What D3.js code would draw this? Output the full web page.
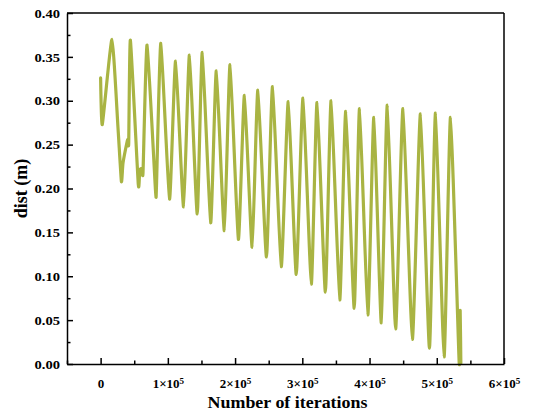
<!DOCTYPE html>
<html>
<head>
<meta charset="utf-8">
<script src="https://cdn.jsdelivr.net/npm/d3@7"></script>
<style>
  html, body { margin: 0; padding: 0; background: #fff; }
  svg { display: block; }
</style>
</head>
<body>
<svg id="chart" width="534" height="416"></svg>
<script>
// Iteration count and distance (m) at each turning point of the trace
const iterations = [
  0, 2500, 16900, 25800, 30900, 33300, 39300, 40700, 41800, 44300,
  56000, 58200, 61600, 63100, 69100, 81600, 83100, 89600, 102500, 111500,
  123400, 132100, 143700, 151200, 163700, 172100, 184000, 192500, 204900, 213900,
  225400, 233900, 246700, 255700, 268700, 279100, 291000, 301000, 313400, 321900,
  334300, 342800, 355700, 364600, 377200, 385100, 397500, 406400, 417500, 426400,
  438800, 449700, 463700, 475700, 489100, 498100, 510900, 520400, 533300, 534800,
  535800
];
const dist = [
  0.326, 0.273, 0.370, 0.270, 0.208, 0.229, 0.253, 0.256, 0.252, 0.369,
  0.205, 0.221, 0.223, 0.219, 0.3635, 0.198, 0.203, 0.3655, 0.188, 0.345,
  0.179, 0.352, 0.171, 0.355, 0.161, 0.334, 0.152, 0.341, 0.142, 0.306,
  0.133, 0.312, 0.122, 0.316, 0.111, 0.299, 0.102, 0.303, 0.091, 0.298,
  0.082, 0.300, 0.073, 0.288, 0.0635, 0.291, 0.056, 0.281, 0.047, 0.295,
  0.040, 0.291, 0.028, 0.285, 0.018, 0.286, 0.008, 0.281, 0.002, 0.061,
  0.001
];

// Axis ticks and labels
const xTicks = [0, 100000, 200000, 300000, 400000, 500000, 600000];
const xTickMantissa = ["0", "1", "2", "3", "4", "5", "6"];
const xTickExponent = "5";
const xMinorTicks = [-50000, 50000, 150000, 250000, 350000, 450000, 550000];
const yTicks = [0, 0.05, 0.10, 0.15, 0.20, 0.25, 0.30, 0.35, 0.40];
const yMinorTicks = [0.025, 0.075, 0.125, 0.175, 0.225, 0.275, 0.325, 0.375];

const FONT = "'Liberation Serif', 'Times New Roman', Times, serif";

const W = 534, H = 416;
const margin = { top: 13, right: 30, bottom: 52, left: 67 };
const iw = W - margin.left - margin.right;
const ih = H - margin.top - margin.bottom;

const svg = d3.select("#chart");
const g = svg.append("g").attr("transform", `translate(${margin.left},${margin.top})`);

const x = d3.scaleLinear().domain([-50000, 600000]).range([0, iw]);
const y = d3.scaleLinear().domain([0, 0.40]).range([ih, 0]);

// Data trace
const pts = iterations.map((v, i) => [v, dist[i]]);
const line = d3.line()
  .x(d => x(d[0]))
  .y(d => y(d[1]))
  .curve(d3.curveCardinal.tension(0.5));

g.append("path")
  .datum(pts)
  .attr("d", line)
  .attr("fill", "none")
  .attr("stroke", "#a9b443")
  .attr("stroke-width", 3.2)
  .attr("stroke-linejoin", "round")
  .attr("stroke-linecap", "round");

// Frame (top and right)
g.append("line").attr("x1", 0).attr("x2", iw).attr("y1", 0).attr("y2", 0)
  .attr("stroke", "#000").attr("stroke-width", 1.5);
g.append("line").attr("x1", iw).attr("x2", iw).attr("y1", 0).attr("y2", ih)
  .attr("stroke", "#000").attr("stroke-width", 1.5);

function styleAxis(sel) {
  sel.attr("font-family", null).attr("font-size", null);
  sel.selectAll("line").attr("stroke", "#000").attr("stroke-width", 1.5);
  sel.select(".domain").attr("stroke", "#000").attr("stroke-width", 1.5);
  sel.selectAll("text")
    .style("font-family", FONT)
    .style("font-weight", "bold")
    .style("font-size", "13px")
    .attr("fill", "#000");
}

// X axis: minor ticks, then major ticks with labels
g.append("g")
  .attr("transform", `translate(0,${ih})`)
  .call(d3.axisBottom(x).tickValues(xMinorTicks).tickSizeInner(-3.5).tickSizeOuter(0).tickFormat(""))
  .call(a => a.select(".domain").remove())
  .call(styleAxis);

const xAxis = g.append("g")
  .attr("transform", `translate(0,${ih})`)
  .call(d3.axisBottom(x).tickValues(xTicks).tickSizeInner(-6).tickSizeOuter(0).tickPadding(15).tickFormat(""));
xAxis.selectAll(".tick text").each(function(d, i) {
  const t = d3.select(this);
  const m = xTickMantissa[i];
  if (d === 0) {
    t.text(m);
  } else {
    t.append("tspan").text(m + "×10");
    t.append("tspan").attr("dy", "-0.45em").text(xTickExponent);
  }
});
xAxis.call(styleAxis);
xAxis.selectAll(".tick text tspan:last-child").style("font-size", "9px");

// Y axis: minor ticks, then major ticks with labels (slightly widened glyphs)
g.append("g")
  .call(d3.axisLeft(y).tickValues(yMinorTicks).tickSizeInner(-3.5).tickSizeOuter(0).tickFormat(""))
  .call(a => a.select(".domain").remove())
  .call(styleAxis);

const yAxis = g.append("g")
  .call(d3.axisLeft(y).tickValues(yTicks).tickSizeInner(-6).tickSizeOuter(0).tickPadding(6.3).tickFormat(d3.format(".2f")))
  .call(styleAxis);
yAxis.selectAll(".tick text").attr("transform", "scale(1.12,1)");

// Axis titles
svg.append("text")
  .attr("transform", `translate(${margin.left + iw / 2 + 2},408) scale(1.12,1)`)
  .attr("text-anchor", "middle")
  .style("font-family", FONT).style("font-weight", "bold").style("font-size", "16px")
  .text("Number of iterations");

svg.append("text")
  .attr("transform", `translate(27,${margin.top + ih / 2}) rotate(-90)`)
  .attr("text-anchor", "middle")
  .style("font-family", FONT).style("font-weight", "bold").style("font-size", "18px")
  .text("dist (m)");
</script>
</body>
</html>
